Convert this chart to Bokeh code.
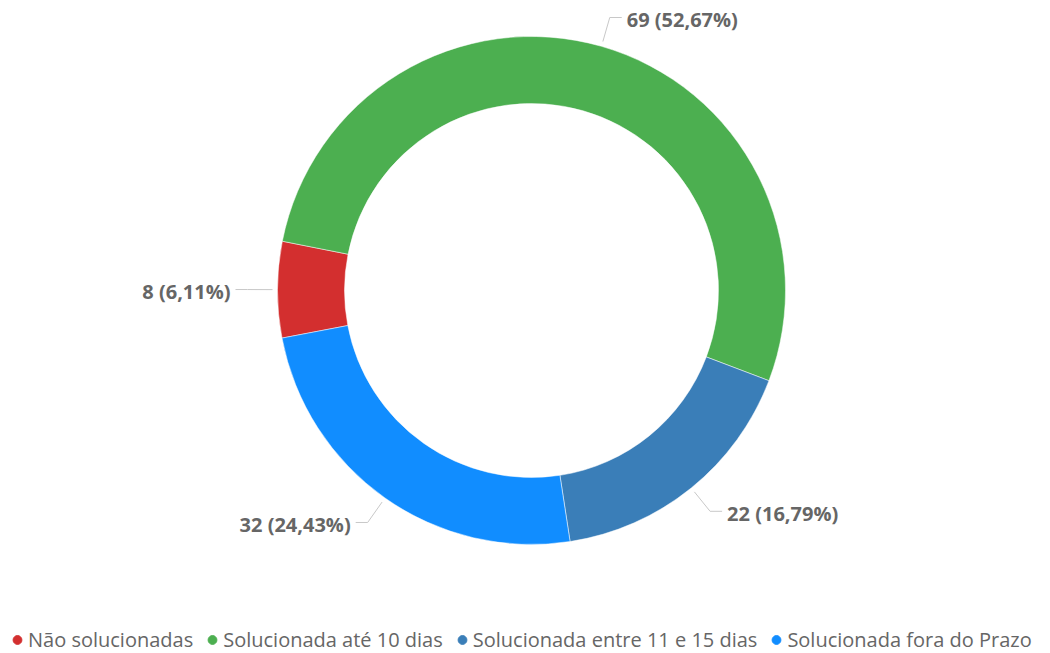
import math
from bokeh.plotting import figure
from bokeh.models import Range1d, Legend, LegendItem, ColumnDataSource
from bokeh.core.properties import value
from bokeh.embed import file_html
from bokeh.resources import INLINE

categories = ["Não solucionadas", "Solucionada até 10 dias",
              "Solucionada entre 11 e 15 dias", "Solucionada fora do Prazo"]
counts = [8, 69, 22, 32]
percent_labels = ["6,11%", "52,67%", "16,79%", "24,43%"]
colors = ["#D32F2F", "#4CAF50", "#3A7EB8", "#118DFF"]

W, H = 1050, 653
CX, CY = 531, H - 290      # donut centre in pixel-like data units
R_OUT, R_IN = 254, 187
START_DEG = 190.8          # first slice starts here, going clockwise

p = figure(width=W, height=H, output_backend="svg", toolbar_location=None,
           x_range=Range1d(0, W), y_range=Range1d(0, H),
           x_axis_type=None, y_axis_type=None, min_border=0)
p.outline_line_color = None
p.grid.visible = False
p.background_fill_color = "white"

total = sum(counts)
starts, ends, mids = [], [], []
a = math.radians(START_DEG)
for c in counts:
    span = 2 * math.pi * c / total
    starts.append(a)
    ends.append(a - span)
    mids.append(a - span / 2)
    a -= span

src = ColumnDataSource(dict(x=[CX] * 4, y=[CY] * 4, start=starts, end=ends,
                            color=colors, cat=categories))
p.annular_wedge(x="x", y="y", inner_radius=R_IN, outer_radius=R_OUT,
                start_angle="start", end_angle="end", direction="clock",
                fill_color="color", line_color="white", line_width=0.5, source=src)

# leader lines + labels
R1, R2, HSEG, GAP = 259, 284, 12, 5
for i, m in enumerate(mids):
    x1, y1 = CX + R1 * math.cos(m), CY + R1 * math.sin(m)
    x2, y2 = CX + R2 * math.cos(m), CY + R2 * math.sin(m)
    side = 1 if math.cos(m) >= 0 else -1
    x3 = x2 + side * HSEG
    p.line([x1, x2, x3], [y1, y2, y2], line_color="#C8C8C8", line_width=1)
    p.text(x=[x3 + side * GAP], y=[y2 - 2], text=[f"{counts[i]} ({percent_labels[i]})"],
           text_align="left" if side > 0 else "right", text_baseline="middle",
           text_font=value("Open Sans"), text_font_style="bold",
           text_font_size="20px", text_color="#666666")

# legend
items = []
for c, col in zip(categories, colors):
    r = p.scatter(x=[-100], y=[-100], marker="circle", size=10,
                  fill_color=col, line_color=col)
    items.append(LegendItem(label=c, renderers=[r]))
legend = Legend(items=items, orientation="horizontal", location=(6, 0),
                glyph_width=22, glyph_height=25, label_standoff=0, spacing=8,
                padding=0, margin=0, border_line_color=None,
                background_fill_alpha=0,
                label_text_font="Open Sans", label_text_font_size="20px",
                label_text_color="#666666")
p.add_layout(legend, "center")

open("out.html", "w").write(file_html(p, INLINE))
